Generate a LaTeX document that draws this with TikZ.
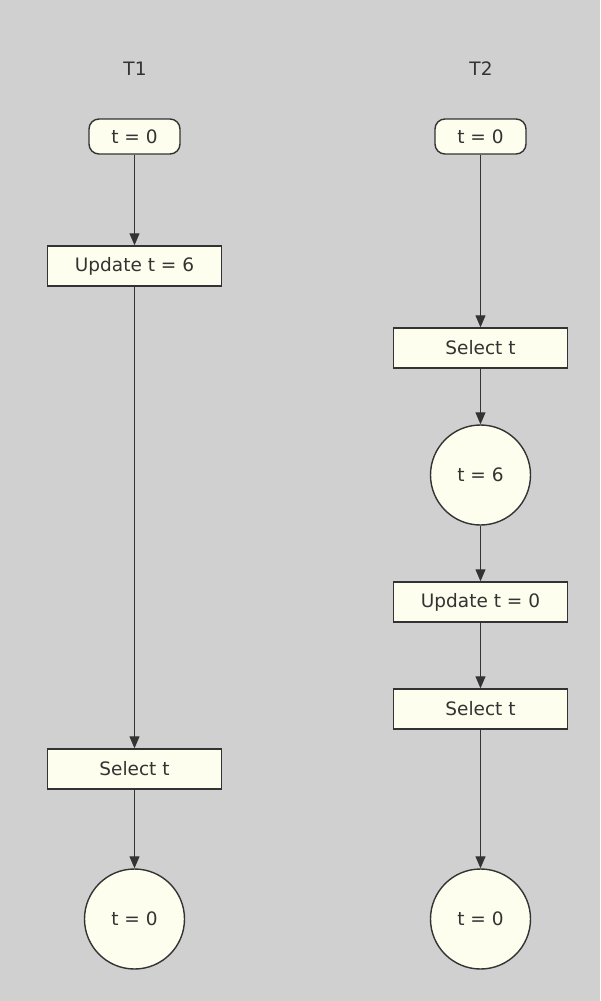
\documentclass[tikz,border=0pt]{standalone}
\usepackage{fontspec}
\setmainfont{DejaVu Sans}
\usetikzlibrary{arrows.meta}
\definecolor{bg}{HTML}{D0D0D0}
\definecolor{boxfill}{HTML}{FEFEEE}
\definecolor{ln}{HTML}{333333}
\begin{document}
\begin{tikzpicture}[x=1pt,y=-1pt,
  every node/.style={font=\fontsize{18.5}{22}\selectfont, text=ln},
  startbox/.style={draw=ln, fill=boxfill, line width=1.4pt, rounded corners=10pt, minimum width=91pt, minimum height=35pt, inner sep=0pt},
  actbox/.style={draw=ln, fill=boxfill, line width=1.4pt, minimum width=174pt, minimum height=40pt, inner sep=0pt},
  statecirc/.style={draw=ln, fill=boxfill, line width=1.4pt, circle, minimum size=100pt, inner sep=0pt},
  lane/.style={inner sep=0pt},
  flow/.style={draw=ln, line width=1.1pt, -{Triangle[length=12pt,width=10pt]}}
]
\fill[bg] (0,0) rectangle (600,1001);
\useasboundingbox (0,0) rectangle (600,1001);

\node[lane] (t1) at (135,69) {T1};
\node[lane] (t2) at (481,69) {T2};

\node[startbox] (a0) at (134.5,136.5) {t = 0};
\node[actbox] (a1) at (134.5,266) {Update t = 6};
\node[actbox] (a2) at (134.5,769) {Select t};
\node[statecirc] (a3) at (134.5,919) {t = 0};

\node[startbox] (b0) at (480.5,136.5) {t = 0};
\node[actbox] (b1) at (480.5,348) {Select t};
\node[statecirc] (b2) at (480.5,475) {t = 6};
\node[actbox] (b3) at (480.5,602) {Update t = 0};
\node[actbox] (b4) at (480.5,709) {Select t};
\node[statecirc] (b5) at (480.5,919) {t = 0};

\draw[flow] (a0) -- (a1);
\draw[flow] (a1) -- (a2);
\draw[flow] (a2) -- (a3);

\draw[flow] (b0) -- (b1);
\draw[flow] (b1) -- (b2);
\draw[flow] (b2) -- (b3);
\draw[flow] (b3) -- (b4);
\draw[flow] (b4) -- (b5);
\end{tikzpicture}
\end{document}
